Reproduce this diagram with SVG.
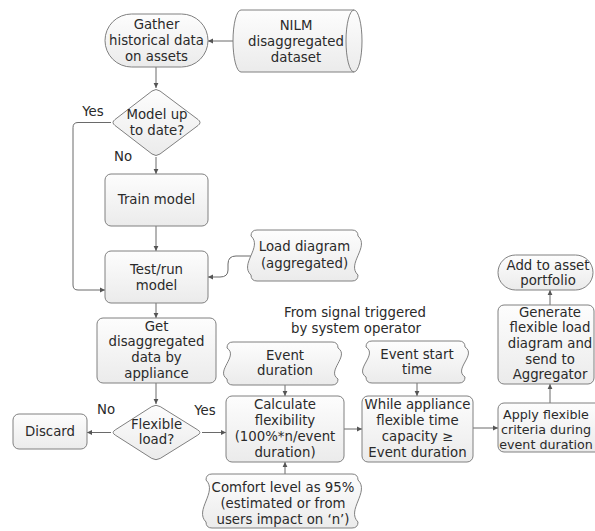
<svg xmlns="http://www.w3.org/2000/svg" width="595" height="531" viewBox="0 0 595 531">
<defs>
<linearGradient id="g" x1="0" y1="0" x2="0" y2="1">
<stop offset="0" stop-color="#fdfdfd"/>
<stop offset="1" stop-color="#ebebeb"/>
</linearGradient>
<marker id="a" markerUnits="userSpaceOnUse" markerWidth="7" markerHeight="7" refX="5" refY="3" orient="auto">
<path d="M0,0.6 L5,3 L0,5.4 Z" fill="#555"/>
</marker>
</defs>
<style>
.n{fill:url(#g);stroke:#808080;stroke-width:1}
.c{fill:none;stroke:#6a6a6a;stroke-width:1;marker-end:url(#a)}
text{font-family:"DejaVu Sans",Verdana,sans-serif;font-size:13.3px;fill:#2a2a2a;text-anchor:middle}
.s{font-size:12.7px}
</style>
<rect width="595" height="531" fill="#fff"/>
<g id="connectors">
<path class="c" d="M233,41 H208"/>
<path class="c" d="M156,67 V88"/>
<path class="c" d="M156,157 V174"/>
<path class="c" d="M111,122.5 H78 Q73,122.5 73,127.5 V285 Q73,290 78,290 H105"/>
<path class="c" d="M156,226 V251"/>
<path class="c" d="M251,256 H236 Q228,256 228,264 V270 Q228,277 220,277 H208"/>
<path class="c" d="M156,303 V318"/>
<path class="c" d="M156,383 V404"/>
<path class="c" d="M111,432.5 H87"/>
<path class="c" d="M202,432.5 H226"/>
<path class="c" d="M285,385 V396"/>
<path class="c" d="M285,474 V462"/>
<path class="c" d="M344,429 H362"/>
<path class="c" d="M417,383 V396"/>
<path class="c" d="M473,428 H498"/>
<path class="c" d="M550,403 V384"/>
<path class="c" d="M550,305 V290"/>
<text x="93" y="115.6">Yes</text>
<text x="123" y="160.6">No</text>
<text x="106" y="413.6">No</text>
<text x="205" y="414.6">Yes</text>
</g>
<g id="gather">
<rect class="n" x="105" y="14" width="103" height="53" rx="26.5"/>
<text x="156.5" y="29">Gather</text>
<text x="156.5" y="45">historical data</text>
<text x="156.5" y="61">on assets</text>
</g>
<g id="nilm">
<path class="n" d="M241,10 H354 A8,31 0 0 1 354,72 H241 A8,31 0 0 1 241,10 Z"/>
<path d="M354,10 A8,31 0 0 0 354,72" fill="none" stroke="#808080"/>
<text x="296" y="29.5">NILM</text>
<text x="296" y="45.5">disaggregated</text>
<text x="296" y="61.5">dataset</text>
</g>
<g id="model-up-to-date">
<path class="n" d="M152,91 Q156,88 160,91 L198,119.5 Q202,122.5 198,125.5 L160,154 Q156,157 152,154 L115,125.5 Q111,122.5 115,119.5 Z"/>
<text x="157" y="118.6">Model up</text>
<text x="157" y="134.6">to date?</text>
</g>
<g id="train-model">
<rect class="n" x="105" y="174" width="103" height="52" rx="6"/>
<text x="156.5" y="203.6">Train model</text>
</g>
<g id="test-run-model">
<rect class="n" x="105" y="251" width="103" height="52" rx="6"/>
<text x="156.5" y="273.6">Test/run</text>
<text x="156.5" y="289.6">model</text>
</g>
<g id="load-diagram">
<path class="n" d="M257,230 H352 Q358,230 358,236 C370,247 346,264 358,275 Q358,281 352,281 H257 Q251,281 251,275 C239,264 263,247 251,236 Q251,230 257,230 Z"/>
<text x="304.5" y="251.3">Load diagram</text>
<text x="304.5" y="267.6">(aggregated)</text>
</g>
<g id="signal-label">
<text x="355" y="316.6">From signal triggered</text>
<text x="356" y="332.6">by system operator</text>
</g>
<g id="get-disaggregated">
<rect class="n" x="97" y="318" width="119" height="65" rx="6"/>
<text x="156.5" y="330.6">Get</text>
<text x="156.5" y="346.3">disaggregated</text>
<text x="156.5" y="362">data by</text>
<text x="156.5" y="377.6">appliance</text>
</g>
<g id="flexible-load">
<path class="n" d="M151.75,406.6 Q156,404 160.25,406.6 L197.75,429.9 Q202,432.5 197.75,435.1 L160.25,458.4 Q156,461 151.75,458.4 L115.25,435.1 Q111,432.5 115.25,429.9 Z"/>
<text x="156.5" y="428.6">Flexible</text>
<text x="156.5" y="444">load?</text>
</g>
<g id="discard">
<rect class="n" x="13" y="414" width="74" height="35" rx="6"/>
<text x="50" y="435.6">Discard</text>
</g>
<g id="event-duration">
<path class="n" d="M233,342 H332 Q338,342 338,348 C350,356 326,371 338,379 Q338,385 332,385 H233 Q227,385 227,379 C215,371 239,356 227,348 Q227,342 233,342 Z"/>
<text x="285" y="359.5">Event</text>
<text x="285" y="375">duration</text>
</g>
<g id="event-start-time">
<path class="n" d="M372,341 H459 Q465,341 465,347 C477,355 453,369 465,377 Q465,383 459,383 H372 Q366,383 366,377 C354,369 378,355 366,347 Q366,341 372,341 Z"/>
<text x="417" y="358.6">Event start</text>
<text x="417" y="374">time</text>
</g>
<g id="calculate-flexibility">
<rect class="n" x="226" y="396" width="118" height="66" rx="6"/>
<text x="285" y="408.6">Calculate</text>
<text x="285" y="424.6">flexibility</text>
<text x="285" y="440.6">(100%*n/event</text>
<text x="285" y="456.6">duration)</text>
</g>
<g id="comfort-level">
<path class="n" d="M212,474 H352 Q358,474 358,480 C370,492 346,510 358,522 Q358,528 352,528 H212 Q206,528 206,522 C194,510 218,492 206,480 Q206,474 212,474 Z"/>
<text x="283" y="491.6">Comfort level as 95%</text>
<text x="283" y="507.6">(estimated or from</text>
<text x="283" y="523.6">users impact on ‘n’)</text>
</g>
<g id="while-appliance">
<rect class="n" x="362" y="396" width="111" height="66" rx="6"/>
<text x="417.5" y="408.6">While appliance</text>
<text x="417.5" y="424.6">flexible time</text>
<text x="417.5" y="440.6">capacity ≥</text>
<text x="417.5" y="456.6">Event duration</text>
</g>
<g id="apply-flexible">
<rect class="n" x="498" y="403" width="110" height="49" rx="6"/>
<text class="s" x="546" y="418.6">Apply flexible</text>
<text class="s" x="546" y="433.6">criteria during</text>
<text class="s" x="546" y="448.6">event duration</text>
</g>
<g id="generate">
<rect class="n" x="498" y="305" width="96" height="79" rx="6"/>
<text x="550" y="316.6">Generate</text>
<text x="550" y="332.3">flexible load</text>
<text x="550" y="348">diagram and</text>
<text x="550" y="363.7">send to</text>
<text x="550" y="379.4">Aggregator</text>
</g>
<g id="add-to-portfolio">
<rect class="n" x="498" y="255" width="95" height="35" rx="17.5"/>
<text x="548" y="269.6">Add to asset</text>
<text x="548" y="285">portfolio</text>
</g>
</svg>
